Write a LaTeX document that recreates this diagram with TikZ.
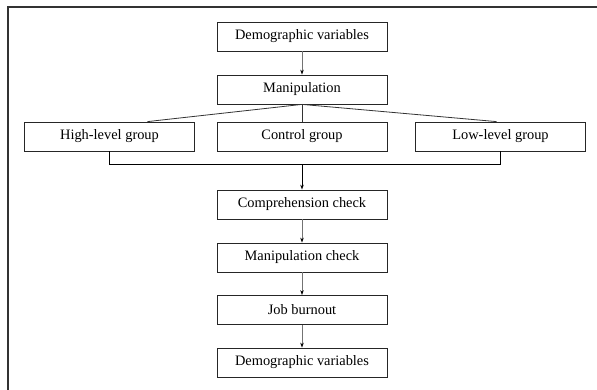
\documentclass[tikz,border=0pt]{standalone}
\usepackage{fontspec}
\setmainfont{Liberation Serif}
\usetikzlibrary{arrows.meta}
\begin{document}
\begin{tikzpicture}[x=1pt,y=-1pt,
  box/.style={draw=black!85,line width=0.8pt,minimum width=170pt,minimum height=29pt,inner sep=0pt,font=\fontsize{14.4pt}{16pt}\selectfont},
  conn/.style={draw=black!55,line width=0.7pt,-{Stealth[black,length=5pt,width=3.5pt]}},
  plain/.style={draw=black!80,line width=0.8pt},
  bus/.style={draw=black,line width=1pt}]
\useasboundingbox (0,0) rectangle (597,390);
\draw[black!80,line width=1.5pt] (8,390) -- (8,7) -- (597,7);
\node[box] (d1) at (302,36.5) {Demographic variables};
\node[box] (man) at (302,89.5) {Manipulation};
\node[box] (hi) at (109.5,136.5) {High-level group};
\node[box] (ctl) at (302,136.5) {Control group};
\node[box] (lo) at (500.5,136.5) {Low-level group};
\node[box] (cc) at (302,204.5) {Comprehension check};
\node[box] (mc) at (302,257.5) {Manipulation check};
\node[box] (jb) at (302,310) {Job burnout};
\node[box] (d2) at (302,362.5) {Demographic variables};
\coordinate (busL) at (hi.south |- 0,165);
\coordinate (busR) at (lo.south |- 0,165);
\coordinate (busM) at (302,165);
\draw[conn] (d1) -- (man);
\draw[plain] (man.south) -- (ctl.north);
\draw[plain] (man.south) -- ([xshift=38pt]hi.north);
\draw[plain] (man.south) -- ([xshift=-4pt]lo.north);
\draw[bus] (hi.south) -- (busL) -- (busR) -- (lo.south);
\draw[bus,-{Stealth[black,length=5pt,width=3.5pt]}] (busM) -- (cc.north);
\draw[conn] (cc) -- (mc);
\draw[conn] (mc) -- (jb);
\draw[conn] (jb) -- (d2);
\end{tikzpicture}
\end{document}
